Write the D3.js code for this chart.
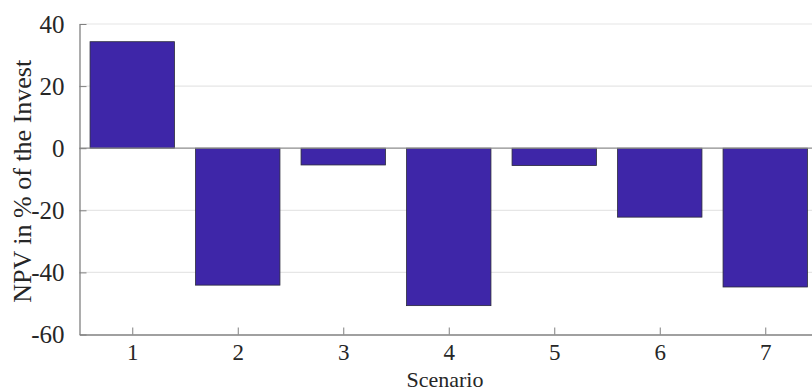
<!DOCTYPE html>
<html>
<head>
<meta charset="utf-8">
<script src="https://cdn.jsdelivr.net/npm/d3@7"></script>
<style>
  html, body { margin: 0; padding: 0; background: #fff; }
  svg { display: block; }
  text { font-family: "Liberation Serif", "Times New Roman", serif; fill: #262626; }
</style>
</head>
<body>
<svg id="chart" width="812" height="392"></svg>
<script>
// Net present value per scenario, in % of the investment
const scenarios = [1, 2, 3, 4, 5, 6, 7];
const npvPercent = [34.3, -44.1, -5.4, -50.7, -5.6, -22.2, -44.7];
const yTicks = [-60, -40, -20, 0, 20, 40];

(function draw() {
  const svg = d3.select("#chart");
  const plotLeft = 79.5, plotBottom = 334.5, plotTop = 24, step = 105.5;

  const x = d3.scaleLinear().domain([0.5, 7.5]).range([plotLeft, plotLeft + 7 * step]);
  const y = d3.scaleLinear().domain([-60, 40]).range([plotBottom, plotTop]);

  // horizontal grid lines
  svg.append("g").selectAll("line")
    .data(yTicks.filter(v => v !== -60 && v !== 0))
    .join("line")
    .attr("x1", plotLeft).attr("x2", 812)
    .attr("y1", d => y(d)).attr("y2", d => y(d))
    .attr("stroke", "#e6e6e6").attr("stroke-width", 1.2);

  // bars, width 0.8 of the category step
  const barW = 0.8;
  svg.append("g").selectAll("rect")
    .data(scenarios.map((s, i) => ({ s, v: npvPercent[i] })))
    .join("rect")
    .attr("x", d => x(d.s - barW / 2))
    .attr("width", d => x(d.s + barW / 2) - x(d.s - barW / 2))
    .attr("y", d => y(Math.max(0, d.v)))
    .attr("height", d => Math.abs(y(d.v) - y(0)))
    .attr("fill", "#3e26a8")
    .attr("stroke", "#2a2a3a").attr("stroke-width", 0.8);

  // zero baseline
  svg.append("line")
    .attr("x1", plotLeft).attr("x2", 812)
    .attr("y1", y(0)).attr("y2", y(0))
    .attr("stroke", "#8c8c8c").attr("stroke-width", 1.2);

  // y axis with inward ticks
  const yAxis = svg.append("g")
    .attr("transform", `translate(${plotLeft},0)`)
    .call(d3.axisLeft(y).tickValues(yTicks).tickSizeInner(-7).tickSizeOuter(0).tickPadding(15)
      .tickFormat(d => d));
  yAxis.select(".domain").attr("stroke", "#808080").attr("stroke-width", 1.3);
  yAxis.selectAll(".tick line").attr("stroke", "#808080");
  yAxis.selectAll(".tick text")
    .attr("font-size", 25).attr("fill", "#262626")
    .attr("font-family", "Liberation Serif, serif");

  // x axis with inward ticks
  const xAxis = svg.append("g")
    .attr("transform", `translate(0,${plotBottom})`)
    .call(d3.axisBottom(x).tickValues(scenarios).tickSizeInner(-7).tickSizeOuter(0).tickPadding(9)
      .tickFormat(d3.format("d")));
  xAxis.select(".domain").attr("stroke", "#808080").attr("stroke-width", 1.3);
  xAxis.selectAll(".tick line").attr("stroke", "#808080");
  xAxis.selectAll(".tick text")
    .attr("font-size", 23).attr("fill", "#262626")
    .attr("font-family", "Liberation Serif, serif");

  // axis titles
  svg.append("text")
    .attr("transform", `translate(31,${(plotTop + plotBottom) / 2 + 2}) rotate(-90)`)
    .attr("text-anchor", "middle")
    .attr("font-size", 26)
    .text("NPV in % of the Invest");

  svg.append("text")
    .attr("x", 445).attr("y", 387)
    .attr("text-anchor", "middle")
    .attr("font-size", 22)
    .text("Scenario");
})();
</script>
</body>
</html>
